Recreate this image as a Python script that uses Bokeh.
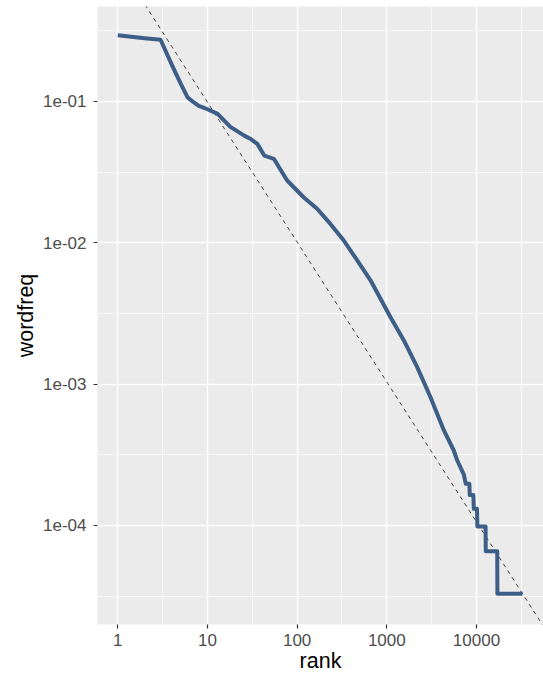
import math
from bokeh.plotting import figure
from bokeh.models import Range1d, FixedTicker
from bokeh.embed import file_html
from bokeh.resources import INLINE

# ---- data ----
rank = [1, 2, 3, 4, 5, 6, 7, 8, 9, 10,
        13, 18, 26, 30, 36, 43, 55, 77,
        118, 167, 235, 331, 468, 658,
        1100, 1550, 2180, 3070, 4330, 5580, 6100,
        7230, 7590, 8320, 8410, 9230, 9330, 10120,
        10230, 12620, 12680, 17020, 17100, 32510]
wordfreq = [0.294, 0.2805, 0.2735, 0.1824, 0.1349, 0.1069, 0.0988, 0.0929, 0.0904, 0.0881,
            0.0817, 0.0661, 0.0571, 0.0545, 0.0501, 0.0414, 0.0393, 0.0277,
            0.0210, 0.0174, 0.0136, 0.01038, 0.0075, 0.00543,
            0.00297, 0.002037, 0.001318, 0.000807, 0.00047, 0.000339, 0.000288,
            0.000229, 0.000197, 0.000197, 0.000164, 0.000164, 0.000131, 0.000131,
            0.0000984, 0.0000984, 0.0000656, 0.0000656, 0.0000328, 0.0000328]

# reference line (log10 space): log10(y) = intercept + slope * log10(x)
abline_intercept = -0.015
abline_slope = -0.99

x_ticks = [1, 10, 100, 1000, 10000]
x_tick_labels = ["1", "10", "100", "1000", "10000"]
y_ticks = [0.1, 0.01, 0.001, 0.0001]
y_tick_labels = ["1e-01", "1e-02", "1e-03", "1e-04"]

# ---- layout ----
x_lo, x_hi = 10 ** -0.226, 10 ** 4.747
y_lo, y_hi = 10 ** -4.701, 10 ** -0.328

FONT = "Liberation Sans"

p = figure(width=543, height=676, x_axis_type="log", y_axis_type="log",
           x_range=Range1d(x_lo, x_hi), y_range=Range1d(y_lo, y_hi),
           output_backend="svg", toolbar_location=None,
           min_border_left=97, min_border_right=0, min_border_top=6, min_border_bottom=52,
           background_fill_color="#EBEBEB", border_fill_color="white",
           outline_line_color=None)

x_minor = [10 ** (k + 0.5) for k in range(-1, 5)]
y_minor = [10 ** (-k - 0.5) for k in range(0, 5)]
xt = FixedTicker(ticks=x_ticks, minor_ticks=x_minor)
yt = FixedTicker(ticks=y_ticks, minor_ticks=y_minor)
p.xaxis.ticker = xt
p.yaxis.ticker = yt
p.xgrid.ticker = xt
p.ygrid.ticker = yt
p.xaxis.major_label_overrides = dict(zip(x_ticks, x_tick_labels))
p.yaxis.major_label_overrides = dict(zip(y_ticks, y_tick_labels))

for g in (p.xgrid, p.ygrid):
    g.grid_line_color = "white"
    g.grid_line_width = 1.4
    g.minor_grid_line_color = "white"
    g.minor_grid_line_width = 0.7

for ax in (p.xaxis, p.yaxis):
    ax.axis_line_color = None
    ax.minor_tick_line_color = None
    ax.major_tick_line_color = "#333333"
    ax.major_tick_line_width = 1.2
    ax.major_tick_out = 4
    ax.major_tick_in = 0
    ax.major_label_text_font = FONT
    ax.major_label_text_font_size = "17px"
    ax.major_label_text_color = "#4D4D4D"
    ax.axis_label_text_font = FONT
    ax.axis_label_text_font_size = "21.5px"
    ax.axis_label_text_font_style = "normal"
    ax.axis_label_text_color = "black"

p.xaxis.axis_label = "rank"
p.yaxis.axis_label = "wordfreq"
p.xaxis.major_label_standoff = 5
p.xaxis.axis_label_standoff = 0
p.yaxis.major_label_standoff = 7
p.yaxis.axis_label_standoff = 2

# dashed reference line across the panel
ab_x = [x_lo, x_hi]
ab_y = [10 ** (abline_intercept + abline_slope * math.log10(v)) for v in ab_x]
p.line(ab_x, ab_y, line_color="#444444", line_width=1, line_dash="4 4")

p.line(rank, wordfreq, line_color="#3D5F87", line_width=4, line_join="round")

open("out.html", "w").write(file_html(p, INLINE))
